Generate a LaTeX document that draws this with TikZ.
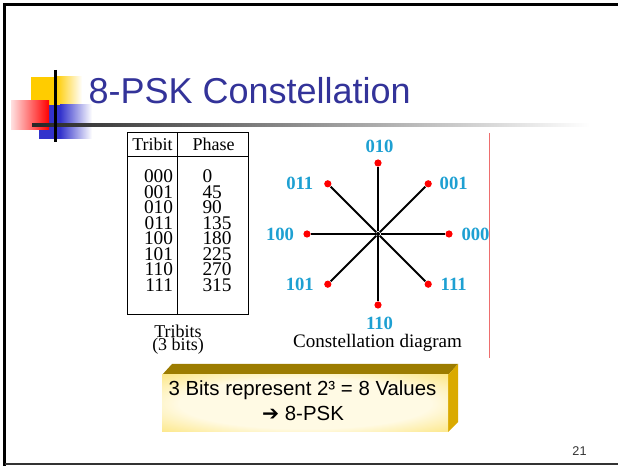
\documentclass[tikz,border=0pt]{standalone}
\usepackage{fontspec}
\setmainfont{Liberation Serif}
\setsansfont{Liberation Sans}
\newfontfamily\arrowfont{DejaVu Sans}
\usetikzlibrary{calc}

\definecolor{titleblue}{RGB}{51,51,153}
\definecolor{bitblue}{RGB}{30,160,210}
\definecolor{dotred}{RGB}{255,0,0}
\definecolor{logoyellow}{RGB}{255,204,0}
\definecolor{logoblue}{RGB}{51,51,204}
\definecolor{logored}{RGB}{255,0,0}
\definecolor{rulered}{RGB}{238,110,110}
\definecolor{boxtop}{RGB}{156,124,0}
\definecolor{boxside}{RGB}{218,170,0}
\definecolor{boxfront}{RGB}{240,192,0}
\definecolor{boxmid}{RGB}{252,228,120}
\definecolor{boxlight}{RGB}{255,250,228}

\pgfdeclareradialshading{boxglow}{\pgfpoint{0bp}{0bp}}{color(0bp)=(boxlight); color(22bp)=(boxlight); color(38bp)=(boxmid); color(50bp)=(boxfront); color(100bp)=(boxfront)}

\tikzset{every picture/.style={line width=0.75pt}}
\tikzset{
  tabtext/.style={font=\fontsize{13.5}{14}\selectfont, inner sep=0pt, text height=8.5pt, text depth=0pt},
  rowtext/.style={tabtext, font=\fontsize{14.5}{15}\selectfont},
  bitlabel/.style={font=\fontsize{14}{15}\selectfont\bfseries, text=bitblue, inner sep=0pt},
  sigpoint/.style={circle, fill=dotred, inner sep=0pt, minimum size=5.4pt},
  spoke/.style={line width=1.5pt},
  boxtext/.style={font=\sffamily\fontsize{15.3}{16}\selectfont, inner sep=0pt, anchor=base}
}

\begin{document}
\begin{tikzpicture}[x=0.75pt,y=0.75pt,yscale=-1,xscale=1]
\useasboundingbox (0,0) rectangle (618,466);

%Slide frame
\draw [line width=2.25pt] (4.5,466) -- (4.5,4.3) -- (618,4.3) ;
\draw [line width=1.1pt, color=black!80] (4.5,464) -- (618,464) ;

%Shape: Rectangle [logo yellow]
\fill [logoyellow] (31,77) rectangle (56,105) ;
\shade [left color=logoyellow, right color=white] (56,77) rectangle (82,105) ;
%Shape: Rectangle [logo blue]
\fill [logoblue] (39,105) rectangle (60,139) ;
\shade [left color=logoblue, right color=white] (60,105) rectangle (92,139) ;
%Shape: Rectangle [logo red]
\shade [left color=logored!12, right color=logored] (11,101) rectangle (49,130) ;
%Straight Lines [title rule]
\shade [left color=black!85, right color=white] (32,123.6) rectangle (590,126.6) ;
\draw [line width=2.25pt] (55,70) -- (55,142) ;

% Text Node
\node [anchor=base west, inner sep=0pt, text=titleblue, font=\sffamily\fontsize{27}{30}\selectfont] (title) at (88,104) {8-PSK Constellation};

%Shape: Table
\draw (127,133) rectangle (248,315) ;
\draw (127,157) -- (248,157) ;
\draw (177,133) -- (177,315) ;

% Text Node
\node [tabtext, anchor=base] (hbits) at (152.5,151) {Tribit};
\node [tabtext, anchor=base] (hphase) at (213.5,151) {Phase};
\foreach \tb/\ph [count=\i from 0] in {000/0,001/45,010/90,011/135,100/180,101/225,110/270,111/315}
{
  \node [rowtext, anchor=base east] (tb\i) at (173.5,183+15.5*\i) {\tb};
  \node [rowtext, anchor=base west] (ph\i) at (202,183+15.5*\i) {\ph};
}
\node [tabtext, anchor=base] (cap1) at (178,337.5) {Tribits};
\node [tabtext, anchor=base] (cap2) at (178,351) {(3 bits)};

%Constellation
\node [circle, fill=black, inner sep=0pt, minimum size=3pt] (c) at (378,234) {};
\foreach \tb/\ang/\lx/\ly in {000/0/26.5/0, 001/45/25.5/0, 010/90/1.5/-17, 011/135/-28/0, 100/180/-27/0, 101/225/-28/0, 110/270/1.5/18, 111/315/25.5/0}
{
  \node [sigpoint] (p\tb) at ($(c)+(-\ang:71)$) {};
  \draw [spoke] (c) -- (p\tb) ;
  \node [bitlabel] (l\tb) at ($(p\tb)+(\lx,\ly)$) {\tb};
}

% Text Node
\node [font=\fontsize{14.3}{15}\selectfont, inner sep=0pt, anchor=base] (cdiag) at (377.5,348) {Constellation diagram};

%Straight Lines [red rule]
\draw [color=rulered] (489,133) -- (489,358) ;

%Shape: Box
\draw [draw opacity=0, fill=boxtop] (162,375) -- (172,364) -- (458,364) -- (448,375) -- cycle ;
\draw [draw opacity=0, fill=boxside] (448,375) -- (458,364) -- (458,422) -- (448,432) -- cycle ;
\shade [shading=boxglow] (162,375) rectangle (448,432) ;

% Text Node
\node [boxtext] (line1) at (302.5,396) {3 Bits represent 2³ = 8 Values};
\node [boxtext] (line2) at (303,421) {{\arrowfont ➔} 8-PSK};

% Text Node
\node [font=\sffamily\fontsize{9.5}{10}\selectfont, text=black!80, inner sep=0pt] (pnum) at (579.5,451.5) {21};

\end{tikzpicture}
\end{document}
